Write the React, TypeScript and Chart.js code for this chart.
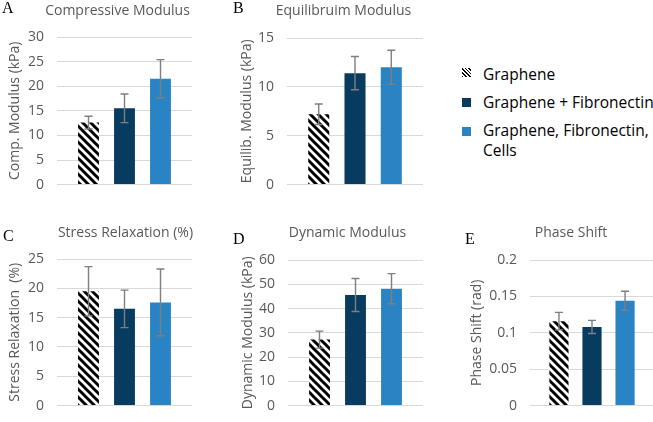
import React, { useEffect, useRef } from "react";
import { Chart, registerables } from "chart.js";

Chart.register(...registerables);

// ---------- data ----------
const categories = ["Graphene", "Graphene + Fibronectin", "Graphene, Fibronectin, Cells"];

const compMean = [12.6, 15.5, 21.5];
const compErr = [1.3, 2.9, 3.9];
const compTicks = [0, 5, 10, 15, 20, 25, 30];

const equilMean = [7.2, 11.4, 12.0];
const equilErr = [1.05, 1.7, 1.75];
const equilTicks = [0, 5, 10, 15];

const relaxMean = [19.5, 16.5, 17.6];
const relaxErr = [4.2, 3.2, 5.7];
const relaxTicks = [0, 5, 10, 15, 20, 25];

const dynMean = [27.2, 45.6, 48.2];
const dynErr = [3.5, 6.8, 6.2];
const dynTicks = [0, 10, 20, 30, 40, 50, 60];

const phaseMean = [0.116, 0.108, 0.144];
const phaseErr = [0.012, 0.009, 0.013];
const phaseTicks = [0, 0.05, 0.1, 0.15, 0.2];

// ---------- styles ----------
const DARK = "#083b60";
const LIGHT = "#2a84c4";
const GREY_TEXT = "#595959";
const FONT = '"Open Sans", sans-serif';

type PanelDef = {
  letter: string;
  title: string;
  yTitle: string;
  means: number[];
  errs: number[];
  ticks: number[];
  left: number; top: number; width: number; height: number;
  plotLeft: number; plotRight: number; plotTop: number; plotBottom: number;
  titleX: number; titleY: number; letterX: number; letterY: number; yTitleX: number;
};

const panels: PanelDef[] = [
  {
    letter: "A", title: "Compressive Modulus", yTitle: "Comp. Modulus (kPa)",
    means: compMean, errs: compErr, ticks: compTicks,
    left: 0, top: 0, width: 200, height: 206,
    plotLeft: 57, plotRight: 192, plotTop: 37, plotBottom: 192,
    titleX: 117.5, titleY: 15, letterX: 2, letterY: 13, yTitleX: 15,
  },
  {
    letter: "B", title: "Equilibruim Modulus", yTitle: "Equilib. Modulus (kPa)",
    means: equilMean, errs: equilErr, ticks: equilTicks,
    left: 220, top: 0, width: 210, height: 206,
    plotLeft: 287, plotRight: 423, plotTop: 38, plotBottom: 192,
    titleX: 343.5, titleY: 15, letterX: 233, letterY: 13, yTitleX: 247,
  },
  {
    letter: "C", title: "Stress Relaxation (%)", yTitle: "Stress Relaxation  (%)",
    means: relaxMean, errs: relaxErr, ticks: relaxTicks,
    left: 0, top: 215, width: 200, height: 212,
    plotLeft: 57, plotRight: 192, plotTop: 259, plotBottom: 415,
    titleX: 125.5, titleY: 237, letterX: 3, letterY: 241, yTitleX: 15,
  },
  {
    letter: "D", title: "Dynamic Modulus", yTitle: "Dynamic Modulus (kPa)",
    means: dynMean, errs: dynErr, ticks: dynTicks,
    left: 220, top: 215, width: 210, height: 212,
    plotLeft: 288, plotRight: 423, plotTop: 260, plotBottom: 414,
    titleX: 347.5, titleY: 237, letterX: 233, letterY: 244, yTitleX: 248,
  },
  {
    letter: "E", title: "Phase Shift", yTitle: "Phase Shift (rad)",
    means: phaseMean, errs: phaseErr, ticks: phaseTicks,
    left: 440, top: 215, width: 225, height: 212,
    plotLeft: 530, plotRight: 654, plotTop: 260, plotBottom: 414,
    titleX: 571, titleY: 237, letterX: 465, letterY: 244, yTitleX: 477,
  },
];

function makeHatch(ctx: CanvasRenderingContext2D): CanvasPattern | string {
  const s = 8;
  const c = document.createElement("canvas");
  c.width = s;
  c.height = s;
  const g = c.getContext("2d");
  if (!g) return "#000";
  g.fillStyle = "#ffffff";
  g.fillRect(0, 0, s, s);
  g.strokeStyle = "#000000";
  g.lineWidth = 3;
  for (const k of [-1, 0, 1]) {
    g.beginPath();
    g.moveTo(k * s - 2, -2);
    g.lineTo(k * s + s + 2, s + 2);
    g.stroke();
  }
  return ctx.createPattern(c, "repeat") || "#000";
}

const panelTextPlugin = {
  id: "panelText",
  afterDraw(chart: any, _args: any, opts: any) {
    const ctx = chart.ctx as CanvasRenderingContext2D;
    ctx.save();
    ctx.fillStyle = GREY_TEXT;
    ctx.font = `14px ${FONT}`;
    ctx.textAlign = "center";
    ctx.textBaseline = "alphabetic";
    ctx.fillText(opts.title, opts.titleX, opts.titleY);
    ctx.fillStyle = "#000";
    ctx.font = '16px "Liberation Serif", "Times New Roman", serif';
    ctx.textAlign = "left";
    ctx.fillText(opts.letter, opts.letterX, opts.letterY);
    ctx.restore();
  },
};

const errorBarPlugin = {
  id: "errorBars",
  afterDatasetsDraw(chart: any, _args: any, opts: any) {
    const ctx = chart.ctx as CanvasRenderingContext2D;
    const yScale = chart.scales.y;
    ctx.save();
    ctx.strokeStyle = "#7f7f7f";
    ctx.lineWidth = 1.4;
    chart.data.datasets.forEach((ds: any, i: number) => {
      const meta = chart.getDatasetMeta(i);
      const bar = meta.data[0];
      if (!bar) return;
      const v = ds.data[0] as number;
      const e = opts.errors[i] as number;
      const x = bar.x;
      const y1 = yScale.getPixelForValue(v + e);
      const y2 = yScale.getPixelForValue(v - e);
      ctx.beginPath();
      ctx.moveTo(x, y1);
      ctx.lineTo(x, y2);
      ctx.moveTo(x - 4, y1);
      ctx.lineTo(x + 4, y1);
      ctx.moveTo(x - 4, y2);
      ctx.lineTo(x + 4, y2);
      ctx.stroke();
    });
    ctx.restore();
  },
};

function PanelChart({ p }: { p: PanelDef }) {
  const ref = useRef<HTMLCanvasElement | null>(null);
  useEffect(() => {
    const canvas = ref.current;
    if (!canvas) return;
    const ctx = canvas.getContext("2d");
    if (!ctx) return;
    const hatch = makeHatch(ctx);
    const fills = [hatch, DARK, LIGHT];
    const ticks = p.ticks;
    const chart = new Chart(canvas, {
      type: "bar",
      data: {
        labels: [""],
        datasets: categories.map((name, i) => ({
          label: name,
          data: [p.means[i]],
          backgroundColor: fills[i] as any,
          borderWidth: 0,
          categoryPercentage: 0.8,
          barPercentage: 0.58,
        })),
      },
      options: {
        responsive: false,
        animation: false,
        layout: {
          padding: {
            left: 0,
            top: p.plotTop - p.top,
            right: p.left + p.width - p.plotRight,
            bottom: p.top + p.height - p.plotBottom,
          },
        },
        plugins: {
          legend: { display: false },
          tooltip: { enabled: false },
          title: { display: false },
          panelText: {
            title: p.title,
            titleX: p.titleX - p.left,
            titleY: p.titleY - p.top,
            letter: p.letter,
            letterX: p.letterX - p.left,
            letterY: p.letterY - p.top,
          },
          errorBars: { errors: p.errs },
        } as any,
        scales: {
          x: { display: false },
          y: {
            min: ticks[0],
            max: ticks[ticks.length - 1],
            afterFit: (s: any) => {
              s.width = p.plotLeft - p.left;
            },
            afterBuildTicks: (s: any) => {
              s.ticks = ticks.map((v) => ({ value: v }));
            },
            ticks: {
              padding: 13,
              color: GREY_TEXT,
              font: { family: FONT, size: 14 },
              callback: (v: any) => String(Number(v)),
            },
            grid: { color: "#d9d9d9", drawTicks: false, lineWidth: 1 },
            border: { display: false },
            title: {
              display: true,
              text: p.yTitle,
              color: GREY_TEXT,
              font: { family: FONT, size: 14 },
              padding: { top: p.yTitleX - p.left - 8.4, bottom: 0 },
            },
          },
        },
      },
      plugins: [panelTextPlugin as any, errorBarPlugin as any],
    });
    return () => chart.destroy();
  }, [p]);
  return (
    <canvas
      ref={ref}
      width={p.width}
      height={p.height}
      style={{ position: "absolute", left: p.left, top: p.top, width: p.width, height: p.height }}
    />
  );
}

function Legend() {
  const swatches = [
    { bg: "repeating-linear-gradient(45deg, #000 0px, #000 1.2px, #fff 1.2px, #fff 2.6px)", top: 68, textTop: 64 },
    { bg: DARK, top: 98, textTop: 92 },
    { bg: LIGHT, top: 127, textTop: 120 },
  ];
  return (
    <>
      {categories.map((name, i) => (
        <React.Fragment key={name}>
          <div
            style={{
              position: "absolute",
              left: 462,
              top: swatches[i].top,
              width: 9,
              height: 9,
              background: swatches[i].bg,
            }}
          />
          <div
            style={{
              position: "absolute",
              left: 483,
              top: swatches[i].textTop,
              width: 175,
              fontFamily: FONT,
              fontSize: 15.5,
              lineHeight: "20px",
              color: "#000",
              whiteSpace: "normal",
            }}
          >
            {name}
          </div>
        </React.Fragment>
      ))}
    </>
  );
}

export default function App() {
  return (
    <div
      style={{
        position: "absolute",
        left: 0,
        top: 0,
        width: 653,
        height: 422,
        overflow: "hidden",
        background: "#fff",
      }}
    >
      {panels.map((p) => (
        <PanelChart key={p.letter} p={p} />
      ))}
      <Legend />
    </div>
  );
}
